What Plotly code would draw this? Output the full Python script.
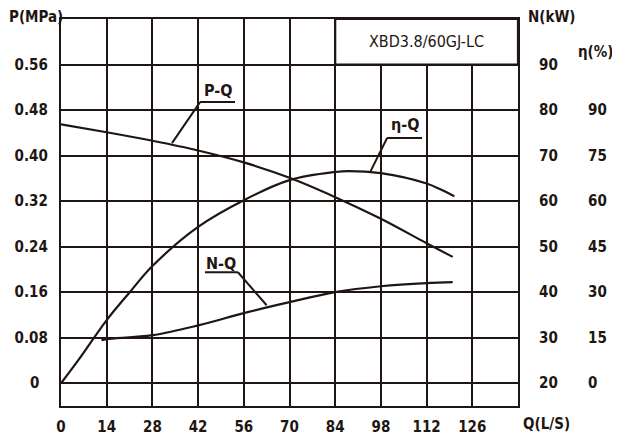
import plotly.graph_objects as go

# Curvas de la bomba XBD3.8/60GJ-LC
q_pq = [0, 14, 28, 42, 56, 70, 84, 98, 112, 120]
p_mpa = [0.455, 0.441, 0.426, 0.409, 0.388, 0.361, 0.327, 0.289, 0.246, 0.222]

q_eta = [0, 5.3, 14, 21, 28, 42, 56, 70, 84, 88, 98, 112, 116.2, 120.5]
eta = [0, 7.6, 20.8, 29.9, 38.6, 51.5, 60.3, 66.9, 69.6, 69.9, 69.2, 65.8, 63.9, 61.6]

q_n = [12.4, 14, 28, 42, 56, 70, 84, 98, 112, 120]
n_kw = [29.45, 29.7, 30.55, 32.7, 35.4, 37.8, 40.0, 41.3, 42.0, 42.2]

q_ticks = [0, 14, 28, 42, 56, 70, 84, 98, 112, 126]
p_ticks = [0, 0.08, 0.16, 0.24, 0.32, 0.40, 0.48, 0.56]
n_ticks = [20, 30, 40, 50, 60, 70, 80, 90]
eta_ticks = [0, 15, 30, 45, 60, 75, 90]

INK = "#1f1613"
FONT = "DejaVu Sans Condensed"

# la página tiene 8px de margen en el body: la figura se dibuja 8px más pequeña
W, H = 612, 436
ML, MR, MT, MB = 53, 12, 11, 38
PW = W - ML - MR
PH = H - MT - MB


def paper(px, py):
    # píxel de la ventana -> coordenadas paper
    return (px - 8 - ML) / PW, (H - MB - (py - 8)) / PH


fig = go.Figure()
fig.add_trace(go.Scatter(x=q_pq, y=p_mpa, mode="lines", line=dict(color=INK, width=2.2, shape="spline"), yaxis="y"))
fig.add_trace(go.Scatter(x=q_eta, y=eta, mode="lines", line=dict(color=INK, width=2.2, shape="spline"), yaxis="y3"))
fig.add_trace(go.Scatter(x=q_n, y=n_kw, mode="lines", line=dict(color=INK, width=2.2, shape="spline"), yaxis="y2"))

xdom = paper(518, 0)[0]
tick_font = dict(family=FONT, size=15, color=INK)

fig.update_layout(
    width=W, height=H,
    margin=dict(l=ML, r=MR, t=MT, b=MB),
    plot_bgcolor="white", paper_bgcolor="white",
    showlegend=False,
    font=dict(family=FONT, color=INK),
    xaxis=dict(domain=[0, xdom], range=[0, 140], tickvals=q_ticks, ticktext=[f"<b>{v}</b>" for v in q_ticks],
               showgrid=True, gridcolor=INK, gridwidth=2.2, zeroline=False,
               showline=True, linecolor=INK, linewidth=2.2, mirror=True, automargin=False,
               ticks="", tickfont=tick_font, ticklabelstandoff=6),
    yaxis=dict(range=[-0.04, 0.64], tickvals=p_ticks,
               ticktext=["<b>0</b>&nbsp;&nbsp;"] + [f"<b>{v:.2f}</b>" for v in p_ticks[1:]],
               showgrid=True, gridcolor=INK, gridwidth=2.2, zeroline=False,
               showline=True, linecolor=INK, linewidth=2.2, mirror=True, automargin=False,
               ticks="", tickfont=tick_font, ticklabelstandoff=8),
    yaxis2=dict(range=[15, 100], tickvals=n_ticks, ticktext=[f"<b>{v}</b>" for v in n_ticks],
                overlaying="y", side="right", anchor="free", position=xdom, automargin=False,
                showgrid=False, zeroline=False, showline=False, ticks="",
                tickfont=tick_font, ticklabelstandoff=20),
    yaxis3=dict(range=[-7.5, 120], tickvals=eta_ticks, ticktext=[f"<b>{v}</b>" for v in eta_ticks],
                overlaying="y", side="right", anchor="free", position=paper(584, 0)[0], automargin=False,
                showgrid=False, zeroline=False, showline=False, ticks="",
                tickfont=tick_font, ticklabelstandoff=3),
)

# caja del modelo (tapa la cuadrícula de esa celda)
fig.add_shape(type="rect", xref="x", yref="y", x0=84, x1=140, y0=0.56, y1=0.64,
              fillcolor="white", line=dict(color=INK, width=2.2), layer="above")
fig.add_annotation(xref="x", yref="y", x=112, y=0.60, text="XBD3.8/60GJ-LC", showarrow=False,
                   font=dict(family=FONT, size=16, color=INK))

# etiquetas de curvas con subrayado y línea guía
labels = [
    ("P-Q", 48.2, 0.515, 42.6, 53.3, 0.494, (42.6, 0.494), (34.0, 0.422)),
    ("η-Q", 105.3, 0.454, 99.9, 110.6, 0.431, (99.9, 0.431), (94.7, 0.371)),
    ("N-Q", 49.0, 0.211, 44.1, 54.2, 0.195, (54.2, 0.195), (63.0, 0.137)),
]
for txt, tx, ty, u0, u1, uy, a, b in labels:
    fig.add_annotation(xref="x", yref="y", x=tx, y=ty, text=f"<b>{txt}</b>", showarrow=False,
                       font=dict(family=FONT, size=16, color=INK))
    fig.add_shape(type="line", xref="x", yref="y", x0=u0, x1=u1, y0=uy, y1=uy, line=dict(color=INK, width=2))
    fig.add_shape(type="line", xref="x", yref="y", x0=a[0], y0=a[1], x1=b[0], y1=b[1], line=dict(color=INK, width=2))

# títulos de ejes
for txt, px, py in [("P(MPa)", 36, 17), ("N(kW)", 552, 17), ("η(%)", 595, 52), ("Q(L/S)", 546, 424)]:
    x, y = paper(px, py)
    fig.add_annotation(xref="paper", yref="paper", x=x, y=y, xanchor="center", yanchor="middle",
                       text=f"<b>{txt}</b>", showarrow=False, font=dict(family=FONT, size=15, color=INK))

fig.write_html("out.html")
